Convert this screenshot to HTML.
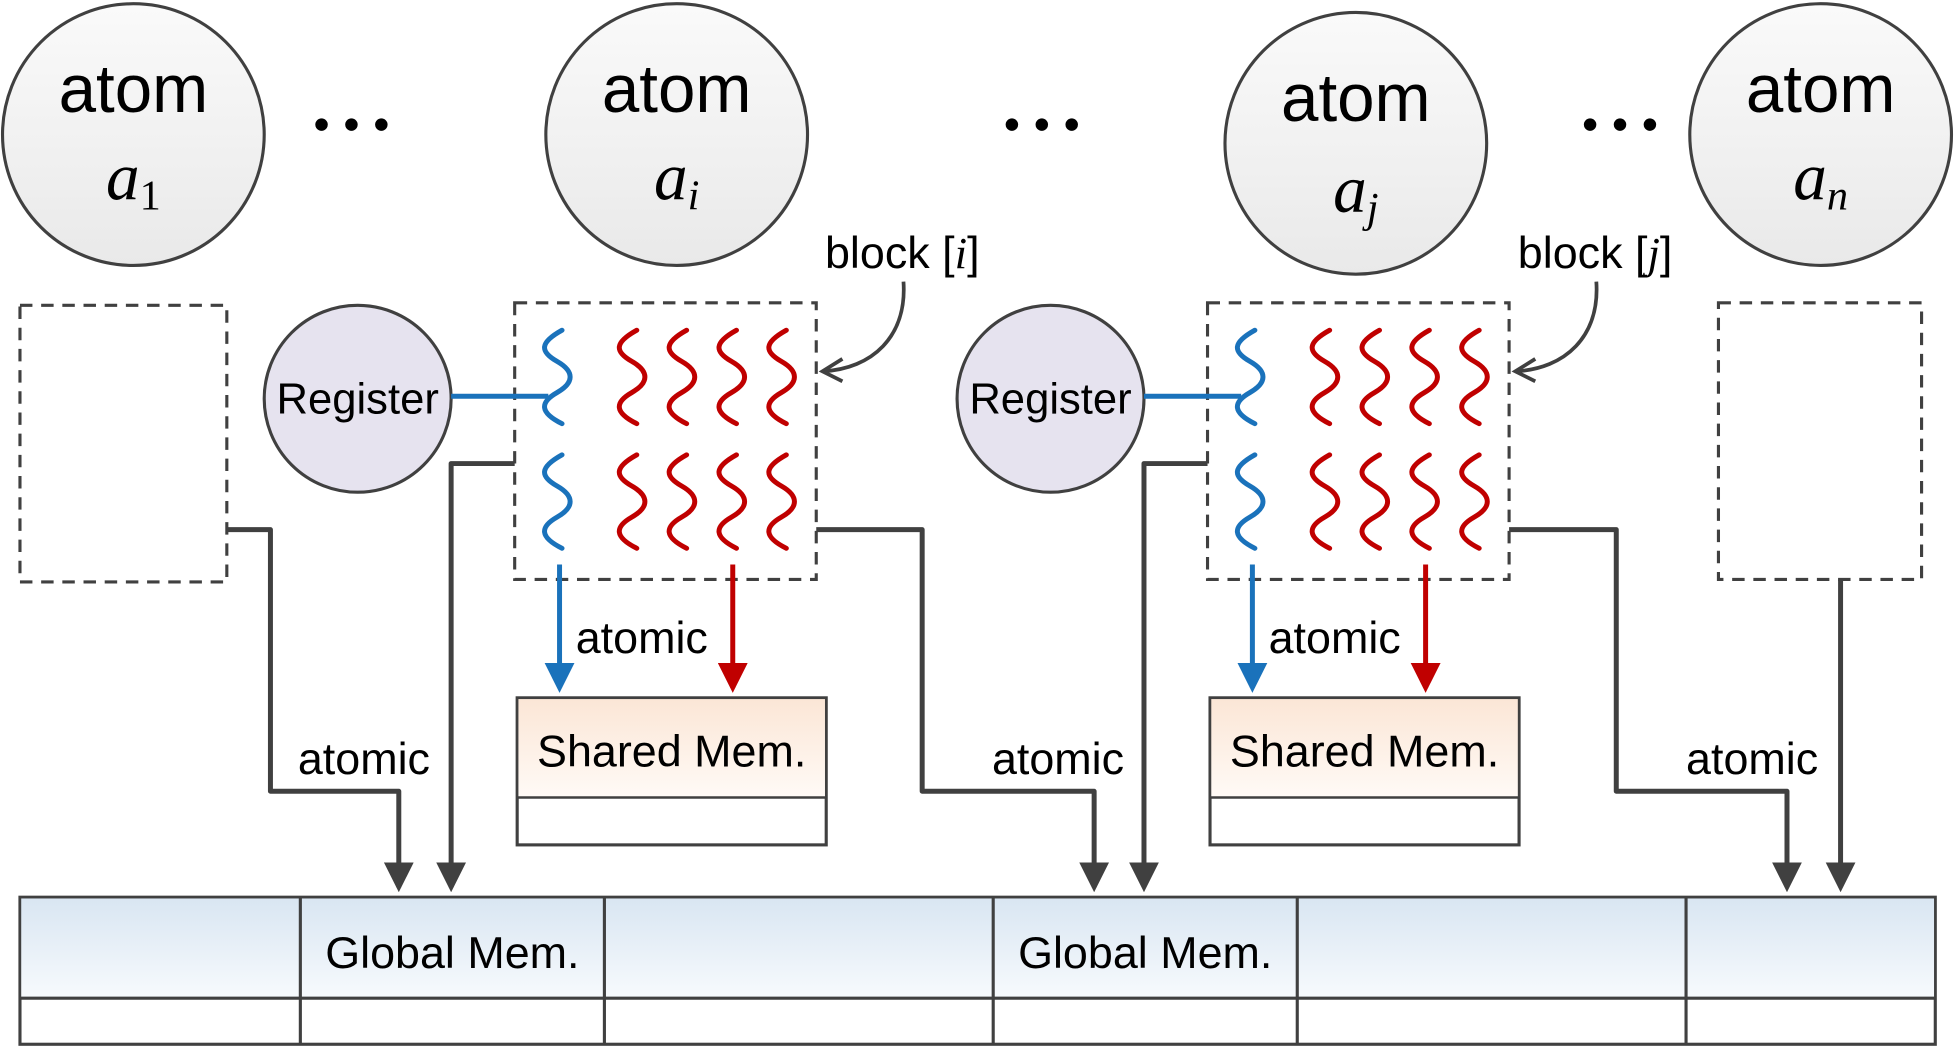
<!DOCTYPE html>
<html><head><meta charset="utf-8"><style>
html,body{margin:0;padding:0;background:#fff;}
svg{display:block;}
text{font-family:"Liberation Sans",sans-serif;fill:#000;}
.it{font-family:"Liberation Serif",serif;font-style:italic;}
.sr{font-family:"Liberation Serif",serif;}
</style></head><body>
<svg width="1954" height="1048" viewBox="0 0 1568 841" xmlns="http://www.w3.org/2000/svg">
<defs>
<linearGradient id="gc" x1="0" y1="0" x2="0" y2="1"><stop offset="0" stop-color="#fafafa"/><stop offset="1" stop-color="#e9e9e9"/></linearGradient>
<linearGradient id="gs" x1="0" y1="0" x2="0" y2="1"><stop offset="0" stop-color="#fbe6d6"/><stop offset="1" stop-color="#fffaf6"/></linearGradient>
<linearGradient id="gg" x1="0" y1="0" x2="0" y2="1"><stop offset="0" stop-color="#d9e6f2"/><stop offset="1" stop-color="#f7fafd"/></linearGradient>
<marker id="ad" markerWidth="6" markerHeight="6" refX="5" refY="3" orient="auto" markerUnits="strokeWidth"><path d="M0,0 L6,3 L0,6 z" fill="#404040"/></marker>
<marker id="ab" markerWidth="6" markerHeight="6" refX="5" refY="3" orient="auto" markerUnits="strokeWidth"><path d="M0,0 L6,3 L0,6 z" fill="#1a72bb"/></marker>
<marker id="ar" markerWidth="6" markerHeight="6" refX="5" refY="3" orient="auto" markerUnits="strokeWidth"><path d="M0,0 L6,3 L0,6 z" fill="#c00000"/></marker>
<path id="sq" d="M4,0 C-14,10 -14,17 0,25 S14,42 0,50 S-14,66 4,75" fill="none" stroke-width="4" stroke-linecap="round"/>
</defs>

<g stroke="#404040" stroke-width="2.5" fill="url(#gc)">
<circle cx="107" cy="108" r="105"/>
<circle cx="543" cy="108" r="105"/>
<circle cx="1088" cy="115" r="105"/>
<circle cx="1461" cy="108" r="105"/>
</g>
<g font-size="54" text-anchor="middle">
<text x="107" y="90">atom</text><text x="543" y="90">atom</text><text x="1088" y="97">atom</text><text x="1461" y="90">atom</text>
</g>
<g font-size="54" text-anchor="middle">
<text x="107" y="160"><tspan class="it">a</tspan><tspan class="sr" font-size="34" dy="8">1</tspan></text>
<text x="543" y="160"><tspan class="it">a</tspan><tspan class="it" font-size="34" dy="8">i</tspan></text>
<text x="1088" y="170"><tspan class="it">a</tspan><tspan class="it" font-size="34" dy="8">j</tspan></text>
<text x="1461" y="160"><tspan class="it">a</tspan><tspan class="it" font-size="34" dy="8">n</tspan></text>
</g>
<g fill="#000">
<circle cx="258" cy="100" r="5"/><circle cx="282" cy="100" r="5"/><circle cx="306" cy="100" r="5"/>
<circle cx="812" cy="100" r="5"/><circle cx="836" cy="100" r="5"/><circle cx="860" cy="100" r="5"/>
<circle cx="1276" cy="100" r="5"/><circle cx="1300" cy="100" r="5"/><circle cx="1324" cy="100" r="5"/>
</g>

<g fill="none" stroke="#404040" stroke-width="2.5" stroke-dasharray="10,7">
<rect x="16" y="245" width="166" height="222"/>
<rect x="413" y="243" width="242" height="222"/>
<rect x="969" y="243" width="242" height="222"/>
<rect x="1379" y="243" width="163" height="222"/>
</g>

<g fill="none" stroke="#404040" stroke-width="4" stroke-linejoin="round">
<path d="M182,425 H217 V635 H320 V712" marker-end="url(#ad)"/>
<path d="M413,372 H362 V712" marker-end="url(#ad)"/>
<path d="M655,425 H740 V635 H878 V712" marker-end="url(#ad)"/>
<path d="M969,372 H918 V712" marker-end="url(#ad)"/>
<path d="M1211,425 H1297 V635 H1434 V712" marker-end="url(#ad)"/>
<path d="M1477,465 V712" marker-end="url(#ad)"/>
</g>
<g font-size="36">
<text x="239" y="621">atomic</text><text x="796" y="621">atomic</text><text x="1353" y="621">atomic</text>
</g>

<g id="blk">
<circle cx="287" cy="320" r="75" fill="#e6e3ef" stroke="#404040" stroke-width="2.5"/>
<text x="287" y="332" font-size="35" text-anchor="middle">Register</text>
<line x1="362" y1="318" x2="440" y2="318" stroke="#1a72bb" stroke-width="4"/>
<g stroke="#1a72bb"><use href="#sq" x="447" y="265"/><use href="#sq" x="447" y="365"/></g>
<g stroke="#c00000">
<use href="#sq" x="507" y="265"/><use href="#sq" x="547" y="265"/><use href="#sq" x="587" y="265"/><use href="#sq" x="627" y="265"/>
<use href="#sq" x="507" y="365"/><use href="#sq" x="547" y="365"/><use href="#sq" x="587" y="365"/><use href="#sq" x="627" y="365"/>
</g>
<line x1="449" y1="453" x2="449" y2="552" stroke="#1a72bb" stroke-width="4" marker-end="url(#ab)"/>
<line x1="588" y1="453" x2="588" y2="552" stroke="#c00000" stroke-width="4" marker-end="url(#ar)"/>
<text x="462" y="524" font-size="36">atomic</text>
<rect x="415" y="560" width="248" height="118" fill="#fff" stroke="#404040" stroke-width="2.5"/>
<rect x="416" y="561" width="246" height="79" fill="url(#gs)"/>
<line x1="415" y1="640" x2="663" y2="640" stroke="#404040" stroke-width="2"/>
<text x="539" y="615" font-size="36" text-anchor="middle">Shared Mem.</text>
<path d="M725,226 C728,270 700,296 660,298" fill="none" stroke="#404040" stroke-width="3"/>
<path d="M676,288 L660,298 L676,306" fill="none" stroke="#404040" stroke-width="3"/>
</g>
<use href="#blk" x="556" y="0"/>
<text x="662" y="215" font-size="36">block [<tspan class="it">i</tspan>]</text>
<text x="1218" y="215" font-size="36">block [<tspan class="it">j</tspan>]</text>

<rect x="16" y="720" width="1537" height="118" fill="#fff" stroke="#404040" stroke-width="2.5"/>
<rect x="17" y="721" width="1535" height="80" fill="url(#gg)"/>
<g stroke="#404040" stroke-width="2.5">
<line x1="16" y1="801" x2="1553" y2="801"/>
<line x1="241" y1="720" x2="241" y2="838"/>
<line x1="485" y1="720" x2="485" y2="838"/>
<line x1="797" y1="720" x2="797" y2="838"/>
<line x1="1041" y1="720" x2="1041" y2="838"/>
<line x1="1353" y1="720" x2="1353" y2="838"/>
</g>
<text x="363" y="777" font-size="36" text-anchor="middle">Global Mem.</text>
<text x="919" y="777" font-size="36" text-anchor="middle">Global Mem.</text>
</svg>
</body></html>
